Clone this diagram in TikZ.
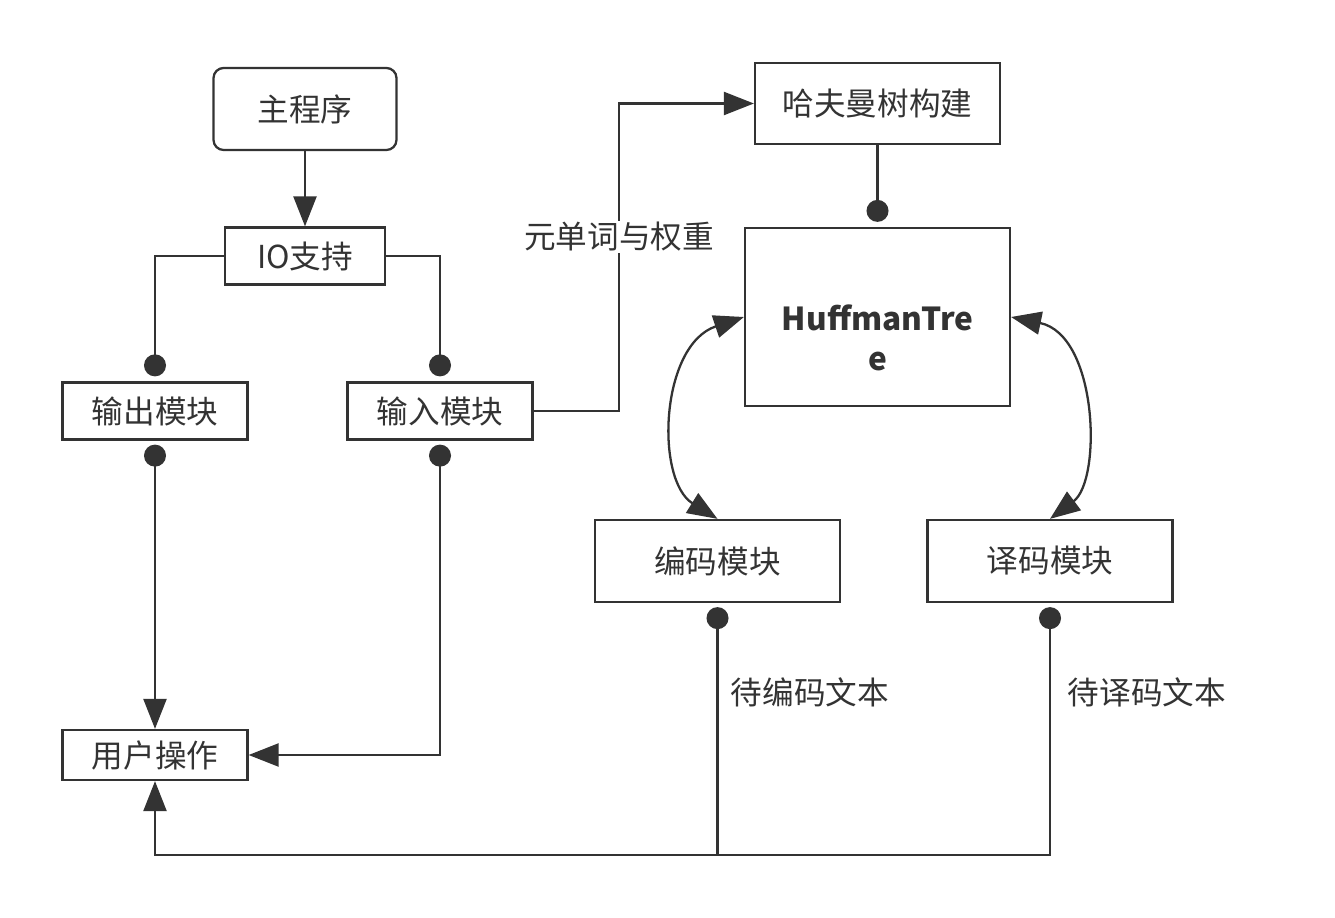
\documentclass[tikz,border=0pt]{standalone}
\usepackage{fontspec}
\setmainfont{Noto Sans CJK SC}
\usetikzlibrary{arrows.meta}
\definecolor{linec}{HTML}{333333}

\begin{document}
\begin{tikzpicture}[x=0.02cm,y=-0.02cm,color=linec,line width=1.3pt,
    font=\fontsize{18}{22.8}\selectfont,
    box/.style={draw,inner sep=0pt},
    arr/.style={-{Triangle[length=0.6cm,width=0.46cm]}},
    dotend/.style={-{Circle[length=0.44cm]},shorten >=0.1cm},
    dotarr/.style={{Circle[length=0.44cm]}-{Triangle[length=0.6cm,width=0.46cm]},shorten <=0.08cm},
    twoarr/.style={{Triangle[length=0.6cm,width=0.46cm]}-{Triangle[length=0.6cm,width=0.46cm]}}]
    \useasboundingbox (0,0) rectangle (1335,918);

    % left side
    \node[box,rounded corners=0.2cm,minimum width=3.66cm,minimum height=1.64cm] (main) at (305,109) {主程序};
    \node[box,minimum width=3.2cm,minimum height=1.14cm] (io) at (305,256) {IO支持};
    \node[box,minimum width=3.7cm,minimum height=1.14cm] (out) at (155,411) {输出模块};
    \node[box,minimum width=3.7cm,minimum height=1.14cm] (in) at (440,411) {输入模块};
    \node[box,minimum width=3.7cm,minimum height=1cm] (user) at (155,755) {用户操作};
    % right side
    \node[box,minimum width=4.9cm,minimum height=1.62cm] (build) at (877.5,103.5) {哈夫曼树构建};
    \node[box,minimum width=5.3cm,minimum height=3.56cm] (tree) at (877.5,317) {};
    \node[align=center,font=\fontsize{18}{22.8}\selectfont\bfseries] (treetext) at (877.5,338) {HuffmanTre\\e};
    \node[box,minimum width=4.9cm,minimum height=1.64cm] (enc) at (717.5,561) {编码模块};
    \node[box,minimum width=4.9cm,minimum height=1.64cm] (dec) at (1050,561) {译码模块};

    % connectors
    \draw[arr] (main) -- (io);
    \draw[dotend] (io.west) -| (out.north);
    \draw[dotend] (io.east) -| (in.north);
    \draw[dotarr] (out.south) -- (user.north);
    \draw[dotarr] (in.south) |- (user.east);
    \coordinate (wbend) at (619,237);
    \draw[arr] (in.east) -| (wbend) |- (build.west);
    \node[fill=white,inner sep=1pt] (wlabel) at (wbend) {元单词与权重};
    \draw[dotend] (build.south) -- (tree.north);
    \draw[twoarr] (tree.west) .. controls (660,345) and (655,480) .. (enc.north);
    \draw[twoarr] (tree.east) .. controls (1098,335) and (1102,480) .. (dec.north);
    \coordinate (encfoot) at (enc.south |- 0,855);
    \draw[dotarr] (enc.south) -- (encfoot) -| (user.south);
    \draw[{Circle[length=0.44cm]}-,shorten <=0.08cm] (dec.south) |- (encfoot);
    \node (enclabel) at (810,692) {待编码文本};
    \node (declabel) at (1147,692) {待译码文本};
\end{tikzpicture}
\end{document}
